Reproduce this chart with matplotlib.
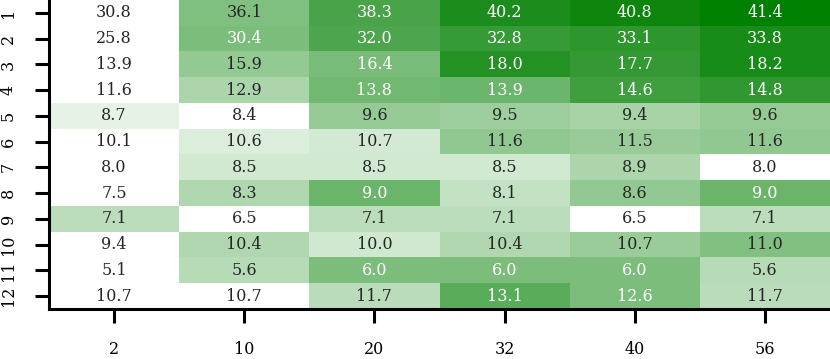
import numpy as np
import matplotlib.pyplot as plt
from matplotlib.colors import LinearSegmentedColormap

# column / row labels
col_labels = ['2', '10', '20', '32', '40', '56']
row_labels = [str(i) for i in range(1, 13)]

# table values (one list per row)
r1 = [30.8, 36.1, 38.3, 40.2, 40.8, 41.4]
r2 = [25.8, 30.4, 32.0, 32.8, 33.1, 33.8]
r3 = [13.9, 15.9, 16.4, 18.0, 17.7, 18.2]
r4 = [11.6, 12.9, 13.8, 13.9, 14.6, 14.8]
r5 = [8.7, 8.4, 9.6, 9.5, 9.4, 9.6]
r6 = [10.1, 10.6, 10.7, 11.6, 11.5, 11.6]
r7 = [8.0, 8.5, 8.5, 8.5, 8.9, 8.0]
r8 = [7.5, 8.3, 9.0, 8.1, 8.6, 9.0]
r9 = [7.1, 6.5, 7.1, 7.1, 6.5, 7.1]
r10 = [9.4, 10.4, 10.0, 10.4, 10.7, 11.0]
r11 = [5.1, 5.6, 6.0, 6.0, 6.0, 5.6]
r12 = [10.7, 10.7, 11.7, 13.1, 12.6, 11.7]

vals = np.array([r1, r2, r3, r4, r5, r6, r7, r8, r9, r10, r11, r12])

# colour = relative gain over the row minimum
row_min = vals.min(axis=1, keepdims=True)
rel = (vals - row_min) / row_min
rel_max = rel.max()

plt.rcParams['font.family'] = ['DejaVu Serif']
cmap = LinearSegmentedColormap.from_list('wg', ['#ffffff', '#008000'])

fig = plt.figure(figsize=(8.3, 3.59), dpi=100)
ax = fig.add_axes([49 / 830, 50 / 359, 781 / 830, 309 / 359])

ax.imshow(rel, cmap=cmap, vmin=0, vmax=rel_max, aspect='auto', interpolation='nearest')

for i in range(vals.shape[0]):
    for j in range(vals.shape[1]):
        t = rel[i, j] / rel_max
        c = 'white' if t > 0.51 else '#262626'
        ax.text(j, i, f'{vals[i, j]:.1f}', ha='center', va='center', fontsize=11.5, color=c)

ax.set_xticks(range(len(col_labels)))
ax.set_xticklabels(col_labels, fontsize=11.5)
ax.set_yticks(range(len(row_labels)))
ax.set_yticklabels(row_labels, fontsize=11.5, rotation=90, va='center')

for s in ['top', 'right']:
    ax.spines[s].set_visible(False)
for s in ['left', 'bottom']:
    ax.spines[s].set_linewidth(2.2)
ax.tick_params(axis='both', length=10, width=2.2, pad=13, colors='black')

fig.savefig('out.png', dpi=100)
